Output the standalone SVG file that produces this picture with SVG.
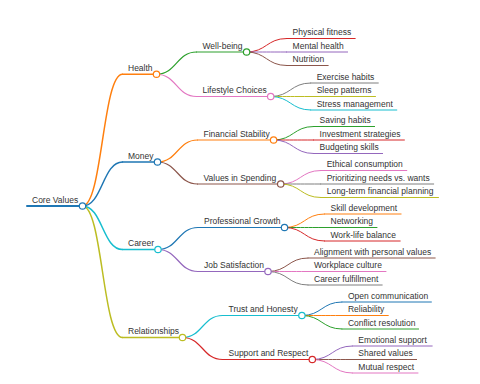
<svg xmlns="http://www.w3.org/2000/svg" width="480" height="384" viewBox="0 0 480 384">
<style>
text{font-family:"Liberation Sans",Arial,sans-serif;font-size:8.5px;fill:#333}
path,line{fill:none;stroke-linecap:round}
.d0{stroke-width:2}
.d1{stroke-width:1.5}
.d2{stroke-width:1.2}
.d3{stroke-width:1}
circle{fill:#fff;stroke-width:1.2}
.blue{stroke:#1f77b4}.orange{stroke:#ff7f0e}.green{stroke:#2ca02c}.red{stroke:#d62728}.purple{stroke:#9467bd}
.brown{stroke:#8c564b}.pink{stroke:#e377c2}.gray{stroke:#7f7f7f}.olive{stroke:#bcbd22}.cyan{stroke:#17becf}
</style>
<rect width="480" height="384" fill="#fff"/>
<g id="connectors">
<path class="d1 orange" d="M82.5,206 C102.5,206 102.5,74.25 122.5,74.25"/>
<path class="d1 blue" d="M82.5,206 C102.5,206 102.5,162 122.5,162"/>
<path class="d1 cyan" d="M82.5,206 C102.5,206 102.5,249.5 122.5,249.5"/>
<path class="d1 olive" d="M82.5,206 C102.5,206 102.5,337.5 122.5,337.5"/>
<path class="d2 green" d="M156.5,74.25 C176.5,74.25 176.5,52 196.5,52"/>
<path class="d2 pink" d="M156.5,74.25 C176.5,74.25 176.5,96.5 196.5,96.5"/>
<path class="d2 orange" d="M157.5,162 C177.5,162 177.5,140 197.5,140"/>
<path class="d2 brown" d="M157.5,162 C177.5,162 177.5,184 197.5,184"/>
<path class="d2 blue" d="M158,249.5 C178,249.5 178,227.5 198,227.5"/>
<path class="d2 purple" d="M158,249.5 C178,249.5 178,271.5 198,271.5"/>
<path class="d2 cyan" d="M182.5,337.5 C202.5,337.5 202.5,315.5 222.5,315.5"/>
<path class="d2 red" d="M182.5,337.5 C202.5,337.5 202.5,359.5 222.5,359.5"/>
<path class="d3 red" d="M246.6,52 C266.6,52 266.6,38.5 286.6,38.5"/>
<path class="d3 purple" d="M246.6,52 C266.6,52 266.6,52 286.6,52"/>
<path class="d3 brown" d="M246.6,52 C266.6,52 266.6,65.5 286.6,65.5"/>
<path class="d3 gray" d="M270.7,96.5 C290.7,96.5 290.7,83 310.7,83"/>
<path class="d3 olive" d="M270.7,96.5 C290.7,96.5 290.7,96.5 310.7,96.5"/>
<path class="d3 cyan" d="M270.7,96.5 C290.7,96.5 290.7,110 310.7,110"/>
<path class="d3 green" d="M273.6,140 C293.6,140 293.6,126.5 313.6,126.5"/>
<path class="d3 red" d="M273.6,140 C293.6,140 293.6,140 313.6,140"/>
<path class="d3 purple" d="M273.6,140 C293.6,140 293.6,153.5 313.6,153.5"/>
<path class="d3 pink" d="M280.7,184 C300.7,184 300.7,170.5 320.7,170.5"/>
<path class="d3 gray" d="M280.7,184 C300.7,184 300.7,184 320.7,184"/>
<path class="d3 olive" d="M280.7,184 C300.7,184 300.7,197.5 320.7,197.5"/>
<path class="d3 orange" d="M284.5,227.5 C304.5,227.5 304.5,214 324.5,214"/>
<path class="d3 green" d="M284.5,227.5 C304.5,227.5 304.5,227.5 324.5,227.5"/>
<path class="d3 red" d="M284.5,227.5 C304.5,227.5 304.5,241 324.5,241"/>
<path class="d3 brown" d="M268,271.5 C288,271.5 288,258 308,258"/>
<path class="d3 pink" d="M268,271.5 C288,271.5 288,271.5 308,271.5"/>
<path class="d3 gray" d="M268,271.5 C288,271.5 288,285 308,285"/>
<path class="d3 blue" d="M301.9,315.5 C321.9,315.5 321.9,302 341.9,302"/>
<path class="d3 orange" d="M301.9,315.5 C321.9,315.5 321.9,315.5 341.9,315.5"/>
<path class="d3 green" d="M301.9,315.5 C321.9,315.5 321.9,329 341.9,329"/>
<path class="d3 purple" d="M312.3,359.5 C332.3,359.5 332.3,346 352.3,346"/>
<path class="d3 brown" d="M312.3,359.5 C332.3,359.5 332.3,359.5 352.3,359.5"/>
<path class="d3 pink" d="M312.3,359.5 C332.3,359.5 332.3,373 352.3,373"/>
</g>
<g id="n-core"><line class="d0 blue" x1="27" y1="206" x2="82.5" y2="206"/><text x="32" y="202.5">Core Values</text><circle class="blue" cx="82.5" cy="206" r="3.2"/></g>
<g id="n-health"><line class="d1 orange" x1="122.5" y1="74.25" x2="156.5" y2="74.25"/><text x="128" y="70.75">Health</text><circle class="orange" cx="156.5" cy="74.25" r="3.2"/></g>
<g id="n-money"><line class="d1 blue" x1="122.5" y1="162" x2="157.5" y2="162"/><text x="128" y="158.5">Money</text><circle class="blue" cx="157.5" cy="162" r="3.2"/></g>
<g id="n-career"><line class="d1 cyan" x1="122.5" y1="249.5" x2="158" y2="249.5"/><text x="128" y="246">Career</text><circle class="cyan" cx="158" cy="249.5" r="3.2"/></g>
<g id="n-relationships"><line class="d1 olive" x1="122.5" y1="337.5" x2="182.5" y2="337.5"/><text x="128" y="334">Relationships</text><circle class="olive" cx="182.5" cy="337.5" r="3.2"/></g>
<g id="n-wellbeing"><line class="d2 green" x1="196.5" y1="52" x2="246.6" y2="52"/><text x="202.5" y="48.5">Well-being</text><circle class="green" cx="246.6" cy="52" r="3.2"/></g>
<g id="n-lifestyle"><line class="d2 pink" x1="196.5" y1="96.5" x2="270.7" y2="96.5"/><text x="202.5" y="93">Lifestyle Choices</text><circle class="pink" cx="270.7" cy="96.5" r="3.2"/></g>
<g id="n-financial"><line class="d2 orange" x1="197.5" y1="140" x2="273.6" y2="140"/><text x="203.5" y="136.5">Financial Stability</text><circle class="orange" cx="273.6" cy="140" r="3.2"/></g>
<g id="n-values"><line class="d2 brown" x1="197.5" y1="184" x2="280.7" y2="184"/><text x="203.5" y="180.5">Values in Spending</text><circle class="brown" cx="280.7" cy="184" r="3.2"/></g>
<g id="n-professional"><line class="d2 blue" x1="198" y1="227.5" x2="284.5" y2="227.5"/><text x="204" y="224">Professional Growth</text><circle class="blue" cx="284.5" cy="227.5" r="3.2"/></g>
<g id="n-job"><line class="d2 purple" x1="198" y1="271.5" x2="268" y2="271.5"/><text x="204" y="268">Job Satisfaction</text><circle class="purple" cx="268" cy="271.5" r="3.2"/></g>
<g id="n-trust"><line class="d2 cyan" x1="222.5" y1="315.5" x2="301.9" y2="315.5"/><text x="228.5" y="312">Trust and Honesty</text><circle class="cyan" cx="301.9" cy="315.5" r="3.2"/></g>
<g id="n-support"><line class="d2 red" x1="222.5" y1="359.5" x2="312.3" y2="359.5"/><text x="228.5" y="356">Support and Respect</text><circle class="red" cx="312.3" cy="359.5" r="3.2"/></g>
<g id="n-physical"><line class="d3 red" x1="286.6" y1="38.5" x2="355.2" y2="38.5"/><text x="292.6" y="35">Physical fitness</text></g>
<g id="n-mental"><line class="d3 purple" x1="286.6" y1="52" x2="347.6" y2="52"/><text x="292.6" y="48.5">Mental health</text></g>
<g id="n-nutrition"><line class="d3 brown" x1="286.6" y1="65.5" x2="328.2" y2="65.5"/><text x="292.6" y="62">Nutrition</text></g>
<g id="n-exercise"><line class="d3 gray" x1="310.7" y1="83" x2="378.3" y2="83"/><text x="316.7" y="79.5">Exercise habits</text></g>
<g id="n-sleep"><line class="d3 olive" x1="310.7" y1="96.5" x2="375.5" y2="96.5"/><text x="316.7" y="93">Sleep patterns</text></g>
<g id="n-stress"><line class="d3 cyan" x1="310.7" y1="110" x2="396.8" y2="110"/><text x="316.7" y="106.5">Stress management</text></g>
<g id="n-saving"><line class="d3 green" x1="313.6" y1="126.5" x2="374.6" y2="126.5"/><text x="319.6" y="123">Saving habits</text></g>
<g id="n-investment"><line class="d3 red" x1="313.6" y1="140" x2="404.4" y2="140"/><text x="319.6" y="136.5">Investment strategies</text></g>
<g id="n-budgeting"><line class="d3 purple" x1="313.6" y1="153.5" x2="382.6" y2="153.5"/><text x="319.6" y="150">Budgeting skills</text></g>
<g id="n-ethical"><line class="d3 pink" x1="320.7" y1="170.5" x2="406.8" y2="170.5"/><text x="326.7" y="167">Ethical consumption</text></g>
<g id="n-prioritizing"><line class="d3 gray" x1="320.7" y1="184" x2="433.7" y2="184"/><text x="326.7" y="180.5">Prioritizing needs vs. wants</text></g>
<g id="n-longterm"><line class="d3 olive" x1="320.7" y1="197.5" x2="438.5" y2="197.5"/><text x="326.7" y="194">Long-term financial planning</text></g>
<g id="n-skill"><line class="d3 orange" x1="324.5" y1="214" x2="401.1" y2="214"/><text x="330.5" y="210.5">Skill development</text></g>
<g id="n-networking"><line class="d3 green" x1="324.5" y1="227.5" x2="377" y2="227.5"/><text x="330.5" y="224">Networking</text></g>
<g id="n-worklife"><line class="d3 red" x1="324.5" y1="241" x2="400.2" y2="241"/><text x="330.5" y="237.5">Work-life balance</text></g>
<g id="n-alignment"><line class="d3 brown" x1="308" y1="258" x2="435.2" y2="258"/><text x="314" y="254.5">Alignment with personal values</text></g>
<g id="n-workplace"><line class="d3 pink" x1="308" y1="271.5" x2="386" y2="271.5"/><text x="314" y="268">Workplace culture</text></g>
<g id="n-fulfillment"><line class="d3 gray" x1="308" y1="285" x2="382.2" y2="285"/><text x="314" y="281.5">Career fulfillment</text></g>
<g id="n-open"><line class="d3 blue" x1="341.9" y1="302" x2="431.4" y2="302"/><text x="347.9" y="298.5">Open communication</text></g>
<g id="n-reliability"><line class="d3 orange" x1="341.9" y1="315.5" x2="388.3" y2="315.5"/><text x="347.9" y="312">Reliability</text></g>
<g id="n-conflict"><line class="d3 green" x1="341.9" y1="329" x2="418.6" y2="329"/><text x="347.9" y="325.5">Conflict resolution</text></g>
<g id="n-emotional"><line class="d3 purple" x1="352.3" y1="346" x2="432.2" y2="346"/><text x="358.3" y="342.5">Emotional support</text></g>
<g id="n-shared"><line class="d3 brown" x1="352.3" y1="359.5" x2="416.6" y2="359.5"/><text x="358.3" y="356">Shared values</text></g>
<g id="n-mutual"><line class="d3 pink" x1="352.3" y1="373" x2="418" y2="373"/><text x="358.3" y="369.5">Mutual respect</text></g>
</svg>
